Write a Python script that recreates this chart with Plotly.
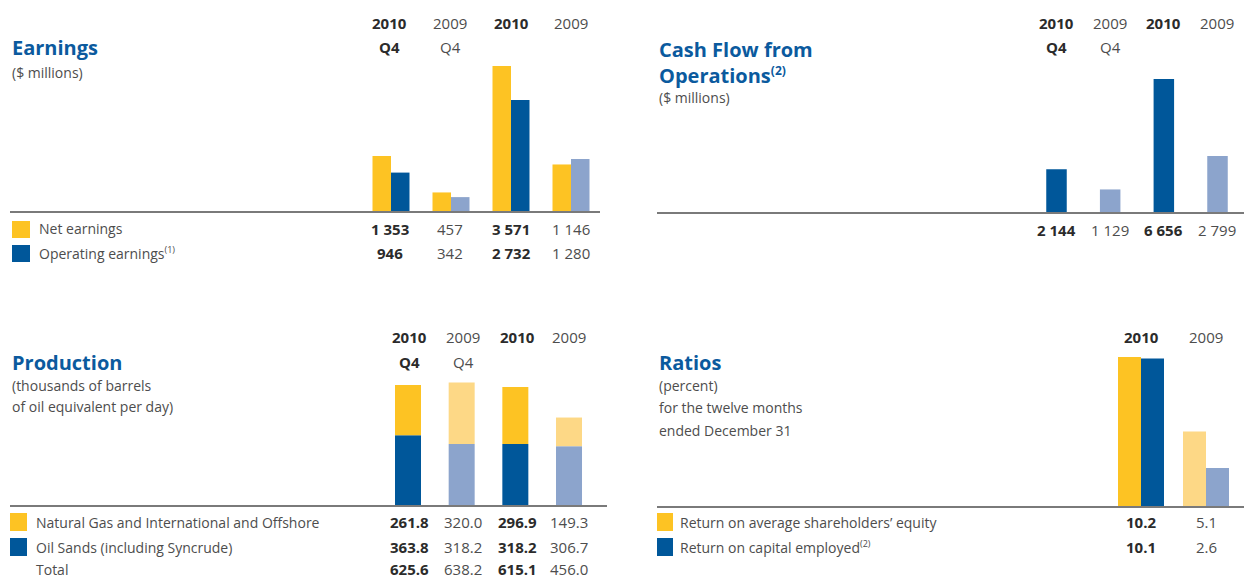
import plotly.graph_objects as go

W, H = 1244, 578

# ---------------- data ----------------
col_years = ["2010", "2009", "2010", "2009"]
col_q4 = ["Q4", "Q4", "", ""]
col_bold = [True, False, True, False]

earn_net = [1353, 457, 3571, 1146]
earn_oper = [946, 342, 2732, 1280]

cash_flow = [2144, 1129, 6656, 2799]

prod_gas = [261.8, 320.0, 296.9, 149.3]
prod_oil = [363.8, 318.2, 318.2, 306.7]
prod_total = [625.6, 638.2, 615.1, 456.0]

ratio_years = ["2010", "2009"]
ratio_bold = [True, False]
ratio_roe = [10.2, 5.1]
ratio_roce = [10.1, 2.6]

# ---------------- style ----------------
YEL = "#FDC323"
YEL_L = "#FDD886"
BLU = "#00579A"
BLU_L = "#8CA4CC"
TITLE = "#0B5A9E"
DARK = "#2b2b2b"
GREY = "#4d4d4d"
FONT = "Open Sans"


def px(x):
    return x / W


def py(y):
    return 1 - y / H


fig = go.Figure()
annotations = []
shapes = []


def text(x, y, s, size=14, color=GREY, bold=False, anchor="left"):
    annotations.append(dict(
        x=px(x), y=py(y), xref="paper", yref="paper",
        text=("<b>%s</b>" % s) if bold else s,
        showarrow=False, xanchor=anchor, yanchor="middle",
        font=dict(family=FONT, size=size, color=color)))


def square(x0, y0, x1, y1, color):
    shapes.append(dict(type="rect", xref="paper", yref="paper",
                       x0=px(x0), x1=px(x1), y0=py(y1), y1=py(y0),
                       fillcolor=color, line=dict(width=0)))


def fmt_int(v):
    return f"{v:,}".replace(",", " ")


def sup(s, size):
    return "<sup><span style='font-size:%dpx'>%s</span></sup>" % (size, s)


def setup_axes(n, x_left, x_right, c0, d, base_px, top_px, scale):
    xa = "xaxis" if n == 1 else "xaxis%d" % n
    ya = "yaxis" if n == 1 else "yaxis%d" % n
    fig.layout[xa] = dict(
        domain=[px(x_left), px(x_right)],
        range=[(x_left - c0) / d, (x_right - c0) / d],
        showgrid=False, zeroline=False, showticklabels=False, ticks="",
        showline=True, linecolor="#7a7a7a", linewidth=2,
        anchor="y" if n == 1 else "y%d" % n, fixedrange=True)
    fig.layout[ya] = dict(
        domain=[py(base_px), py(top_px)],
        range=[0, (base_px - top_px) / scale],
        showgrid=False, zeroline=False, showticklabels=False, ticks="",
        showline=False,
        anchor="x" if n == 1 else "x%d" % n, fixedrange=True)


idx4 = [0, 1, 2, 3]
idx2 = [0, 1]

# ---------- Earnings ----------
setup_axes(1, 10, 600, 391, 60, 211, 50, 145 / 3571)
w = 18.5 / 60
fig.add_trace(go.Bar(x=idx4, y=earn_net, width=w, offset=-w,
                     marker=dict(color=YEL, line=dict(width=0)),
                     xaxis="x", yaxis="y"))
fig.add_trace(go.Bar(x=idx4, y=earn_oper, width=w, offset=0,
                     marker=dict(color=[BLU, BLU_L, BLU, BLU_L], line=dict(width=0)),
                     xaxis="x", yaxis="y"))
text(10, 47, "Earnings", size=20, color=TITLE, bold=True)
text(10, 72, "($ millions)")
for i, cx in enumerate([390, 450, 511, 571]):
    b = col_bold[i]
    text(cx, 23, col_years[i], size=15, color=DARK if b else GREY, bold=b, anchor="center")
    if col_q4[i]:
        text(cx, 47, col_q4[i], size=15, color=DARK if b else GREY, bold=b, anchor="center")
    text(cx, 229, fmt_int(earn_net[i]), size=15, color=DARK if b else GREY, bold=b, anchor="center")
    text(cx, 253, fmt_int(earn_oper[i]), size=15, color=DARK if b else GREY, bold=b, anchor="center")
square(12, 221, 30, 238, YEL)
square(12, 245, 30, 262, BLU)
text(37, 229, "Net earnings")
text(37, 253, "Operating earnings" + sup("(1)", 9))

# ---------- Cash flow ----------
d = 53.67
setup_axes(2, 657, 1244, 1056.5, d, 212, 60, 133 / 6656)
w = 20.5 / d
fig.add_trace(go.Bar(x=idx4, y=cash_flow, width=w, offset=-w / 2,
                     marker=dict(color=[BLU, BLU_L, BLU, BLU_L], line=dict(width=0)),
                     xaxis="x2", yaxis="y2"))
text(657, 50, "Cash Flow from", size=20, color=TITLE, bold=True)
text(657, 75, "Operations" + sup("(2)", 12), size=20, color=TITLE, bold=True)
text(657, 97, "($ millions)")
for i, cx in enumerate([1056, 1110, 1163, 1217]):
    b = col_bold[i]
    text(cx, 23, col_years[i], size=15, color=DARK if b else GREY, bold=b, anchor="center")
    if col_q4[i]:
        text(cx, 47, col_q4[i], size=15, color=DARK if b else GREY, bold=b, anchor="center")
    text(cx, 230, fmt_int(cash_flow[i]), size=15, color=DARK if b else GREY, bold=b, anchor="center")

# ---------- Production ----------
setup_axes(3, 10, 607, 408, d, 505, 370, 120 / 625.6)
w = 26 / d
fig.add_trace(go.Bar(x=idx4, y=prod_oil, width=w, offset=-w / 2,
                     marker=dict(color=[BLU, BLU_L, BLU, BLU_L], line=dict(width=0)),
                     xaxis="x3", yaxis="y3"))
fig.add_trace(go.Bar(x=idx4, y=prod_gas, base=prod_oil, width=w, offset=-w / 2,
                     marker=dict(color=[YEL, YEL_L, YEL, YEL_L], line=dict(width=0)),
                     xaxis="x3", yaxis="y3"))
text(10, 362, "Production", size=20, color=TITLE, bold=True)
text(10, 385, "(thousands of barrels")
text(10, 406, "of oil equivalent per day)")
for i, cx in enumerate([409, 463, 517, 569]):
    b = col_bold[i]
    text(cx, 337, col_years[i], size=15, color=DARK if b else GREY, bold=b, anchor="center")
    if col_q4[i]:
        text(cx, 362, col_q4[i], size=15, color=DARK if b else GREY, bold=b, anchor="center")
    text(cx, 522, f"{prod_gas[i]:.1f}", size=15, color=DARK if b else GREY, bold=b, anchor="center")
    text(cx, 547, f"{prod_oil[i]:.1f}", size=15, color=DARK if b else GREY, bold=b, anchor="center")
    text(cx, 569, f"{prod_total[i]:.1f}", size=15, color=DARK if b else GREY, bold=b, anchor="center")
square(10, 513, 27, 531, YEL)
square(10, 538, 27, 556, BLU)
text(34, 522, "Natural Gas and International and Offshore")
text(34, 547, "Oil Sands (including Syncrude)")
text(34, 569, "Total")

# ---------- Ratios ----------
setup_axes(4, 657, 1244, 1141, 65, 506, 350, 149 / 10.2)
w = 23 / 65
fig.add_trace(go.Bar(x=idx2, y=ratio_roe, width=w, offset=-w,
                     marker=dict(color=[YEL, YEL_L], line=dict(width=0)),
                     xaxis="x4", yaxis="y4"))
fig.add_trace(go.Bar(x=idx2, y=ratio_roce, width=w, offset=0,
                     marker=dict(color=[BLU, BLU_L], line=dict(width=0)),
                     xaxis="x4", yaxis="y4"))
text(657, 362, "Ratios", size=20, color=TITLE, bold=True)
text(657, 385, "(percent)")
text(657, 407, "for the twelve months")
text(657, 430, "ended December 31")
for i, cx in enumerate([1141, 1206]):
    b = ratio_bold[i]
    text(cx, 337, ratio_years[i], size=15, color=DARK if b else GREY, bold=b, anchor="center")
    text(cx, 522, f"{ratio_roe[i]:.1f}", size=15, color=DARK if b else GREY, bold=b, anchor="center")
    text(cx, 547, f"{ratio_roce[i]:.1f}", size=15, color=DARK if b else GREY, bold=b, anchor="center")
square(657, 513, 673, 531, YEL)
square(657, 538, 673, 556, BLU)
text(678, 522, "Return on average shareholders’ equity")
text(678, 547, "Return on capital employed" + sup("(2)", 9))

fig.update_layout(
    width=W, height=H,
    margin=dict(l=0, r=0, t=0, b=0),
    paper_bgcolor="white", plot_bgcolor="rgba(0,0,0,0)",
    barmode="overlay", showlegend=False,
    annotations=annotations, shapes=shapes,
    font=dict(family=FONT, color=GREY),
)

fig.write_html("out.html", config={"displayModeBar": False},
               post_script="document.body.style.margin='0';document.body.style.overflow='hidden';")
